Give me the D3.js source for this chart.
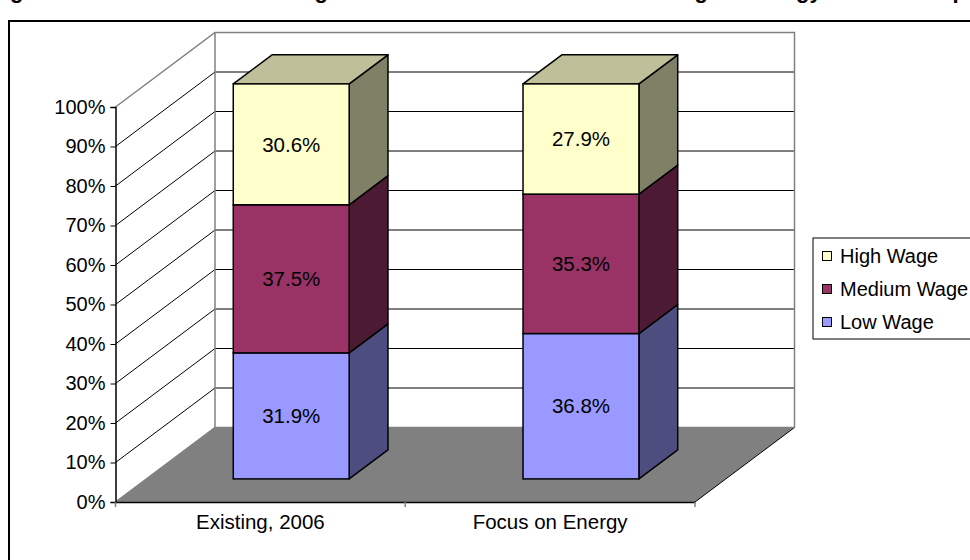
<!DOCTYPE html>
<html>
<head>
<meta charset="utf-8">
<script src="https://cdn.jsdelivr.net/npm/d3@7"></script>
<style>
  body { margin: 0; background: #fff; }
  svg { display: block; font-family: Arial, "Liberation Sans", sans-serif; }
</style>
</head>
<body>
<svg id="chart" width="970" height="560"></svg>
<script>
const categories = ['Existing, 2006', 'Focus on Energy'];
const series = ['Low Wage', 'Medium Wage', 'High Wage'];
const lowWage = [0.319, 0.368];
const mediumWage = [0.375, 0.353];
const highWage = [0.306, 0.279];
const yTicks = [0, 0.1, 0.2, 0.3, 0.4, 0.5, 0.6, 0.7, 0.8, 0.9, 1];
const titleText = 'Figure 3: Skill Levels of Existing Industries in 2006 and the Focusing on Energy Scenario Impacts';

const colors = {
  'Low Wage':    { front: '#9999ff', side: '#4d4d80', top: '#7a7acc' },
  'Medium Wage': { front: '#993366', side: '#4d1a33', top: '#7a2952' },
  'High Wage':   { front: '#ffffcc', side: '#808066', top: '#bfbf99' }
};

const svg = d3.select('#chart');

// depth vector of the 3d box
const depth = { x: 99.5, y: -74.5 };
const barFront = 0.31, barBack = 0.70;
const proj = (x, y, d) => [x + depth.x * d, y + depth.y * d];

const x = d3.scaleBand().domain(categories).range([115.5, 695])
  .paddingInner(0.6).paddingOuter(0.3);
const y = d3.scaleLinear().domain([0, 1]).range([502, 107]);

const line = d3.line();

// title (only its descenders show at the top of the picture)
const title = svg.append('text')
  .attr('x', 0).attr('y', -2)
  .attr('font-weight', 'bold').attr('font-size', 22)
  .text(titleText);
// line the "g" of "Figure" up with where it sits in the original
const gi = titleText.indexOf('g');
title.attr('x', 10 - title.node().getSubStringLength(0, gi));

// outer frame
svg.append('rect')
  .attr('x', 9).attr('y', 21).attr('width', 1000).attr('height', 600)
  .attr('fill', 'none').attr('stroke', '#000').attr('stroke-width', 2);

const x0 = x.range()[0], x1 = x.range()[1];

// floor
svg.append('path')
  .attr('d', line([proj(x0, y(0), 0), proj(x0, y(0), 1), proj(x1, y(0), 1), proj(x1, y(0), 0)]) + 'Z')
  .attr('fill', '#808080').attr('stroke', 'none');
svg.append('path')
  .attr('d', line([proj(x1, y(0), 0), proj(x1, y(0), 1)]))
  .attr('stroke', '#000').attr('stroke-width', 1).attr('fill', 'none');

// gridlines: left wall slant + back wall
svg.append('g').selectAll('path')
  .data(yTicks.filter(t => t > 0 && t < 1))
  .join('path')
  .attr('d', t => line([proj(x0, y(t), 0), proj(x0, y(t), 1), proj(x1, y(t), 1)]))
  .attr('fill', 'none').attr('stroke', '#000').attr('stroke-width', 1);

// wall borders
svg.append('path')
  .attr('d', line([proj(x0, y(1), 0), proj(x0, y(1), 1), proj(x1, y(1), 1), proj(x1, y(0), 1)]))
  .attr('fill', 'none').attr('stroke', '#808080').attr('stroke-width', 1.5);
svg.append('path')
  .attr('d', line([proj(x0, y(0), 0), proj(x0, y(0), 1), proj(x1, y(0), 1)]))
  .attr('fill', 'none').attr('stroke', '#808080').attr('stroke-width', 1.5);
svg.append('path')
  .attr('d', line([proj(x0, y(0), 1), proj(x0, y(1), 1)]))
  .attr('fill', 'none').attr('stroke', '#808080').attr('stroke-width', 1.5);

// y axis
const yAxis = svg.append('g')
  .attr('transform', `translate(${x0},0)`)
  .call(d3.axisLeft(y).tickValues(yTicks).tickFormat(d3.format('.0%')).tickSize(5).tickPadding(5));
yAxis.select('.domain').attr('stroke', '#000').attr('stroke-width', 1.5);
yAxis.selectAll('.tick line').attr('stroke', '#000');
yAxis.selectAll('.tick text').attr('font-size', 20).attr('font-family', 'Arial, "Liberation Sans", sans-serif').attr('fill', '#000');

// x axis
const xAxis = svg.append('g')
  .attr('transform', `translate(0,${y(0)})`)
  .call(d3.axisBottom(x).tickSize(0).tickPadding(12));
xAxis.select('.domain').attr('stroke', '#000').attr('stroke-width', 1.5);
xAxis.selectAll('.tick text').attr('font-size', 20.5).attr('font-family', 'Arial, "Liberation Sans", sans-serif').attr('fill', '#000');
svg.append('g').selectAll('line')
  .data([x0, (x0 + x1) / 2, x1])
  .join('line')
  .attr('x1', d => d).attr('x2', d => d)
  .attr('y1', y(0)).attr('y2', y(0) + 5)
  .attr('stroke', '#808080').attr('stroke-width', 1.5);

// stacked data
const rows = categories.map((c, i) => ({
  category: c,
  'Low Wage': lowWage[i],
  'Medium Wage': mediumWage[i],
  'High Wage': highWage[i]
}));
const stacked = d3.stack().keys(series)(rows);

const bars = svg.append('g');
categories.forEach((c, i) => {
  const bx0 = x(c), bx1 = x(c) + x.bandwidth();
  stacked.forEach((layer, li) => {
    const s = layer[i];
    const col = colors[layer.key];
    const yb = y(s[0]), yt = y(s[1]);
    const g = bars.append('g');
    // side
    g.append('path')
      .attr('d', line([proj(bx1, yt, barFront), proj(bx1, yt, barBack), proj(bx1, yb, barBack), proj(bx1, yb, barFront)]) + 'Z')
      .attr('fill', col.side).attr('stroke', '#000').attr('stroke-width', 1.5).attr('stroke-linejoin', 'round');
    // top (only the last segment shows its top)
    if (li === stacked.length - 1) {
      g.append('path')
        .attr('d', line([proj(bx0, yt, barFront), proj(bx0, yt, barBack), proj(bx1, yt, barBack), proj(bx1, yt, barFront)]) + 'Z')
        .attr('fill', col.top).attr('stroke', '#000').attr('stroke-width', 1.5).attr('stroke-linejoin', 'round');
    }
    // front
    const p0 = proj(bx0, yt, barFront), p1 = proj(bx1, yb, barFront);
    g.append('rect')
      .attr('x', p0[0]).attr('y', p0[1])
      .attr('width', p1[0] - p0[0]).attr('height', p1[1] - p0[1])
      .attr('fill', col.front).attr('stroke', '#000').attr('stroke-width', 1.5);
    g.append('text')
      .attr('x', (p0[0] + p1[0]) / 2).attr('y', (p0[1] + p1[1]) / 2)
      .attr('dy', '0.35em').attr('text-anchor', 'middle')
      .attr('font-size', 20.5).attr('fill', '#000')
      .text(d3.format('.1%')(s[1] - s[0]));
  });
});

// legend
const legend = svg.append('g').attr('transform', 'translate(813,238)');
legend.append('rect')
  .attr('x', 0).attr('y', 0).attr('width', 200).attr('height', 101)
  .attr('fill', '#fff').attr('stroke', '#000').attr('stroke-width', 1);
const legendKeys = series.slice().reverse();
const li = legend.selectAll('g.item')
  .data(legendKeys)
  .join('g')
  .attr('class', 'item')
  .attr('transform', (d, i) => `translate(0,${18 + i * 33})`);
li.append('rect')
  .attr('x', 9.5).attr('y', -4.5).attr('width', 9).attr('height', 9)
  .attr('fill', d => colors[d].front).attr('stroke', '#000').attr('stroke-width', 1);
li.append('text')
  .attr('x', 27).attr('dy', '0.35em')
  .attr('font-size', 20).attr('fill', '#000')
  .text(d => d);
</script>
</body>
</html>
